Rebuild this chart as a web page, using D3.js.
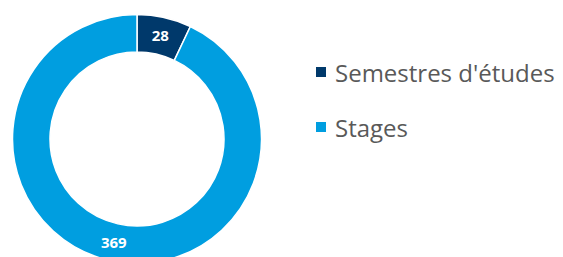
<!DOCTYPE html>
<html>
<head>
<meta charset="utf-8">
<script src="https://cdn.jsdelivr.net/npm/d3@7.9.0/dist/d3.min.js"></script>
<style>
  html, body { margin: 0; padding: 0; background: #fff; }
  svg { display: block; }
</style>
</head>
<body>
<div id="chart"></div>
<script>
// données
const categories = ["Semestres d'études", "Stages"];
const values = [28, 369];
const colors = ["#00396B", "#009EE0"];

const W = 563, H = 257;
const cx = 137, cy = 139;
const outerR = 124.5, innerR = 87;

const svg = d3.select('#chart').append('svg')
  .attr('width', W).attr('height', H);

const pie = d3.pie().sort(null).value(d => d)(values);
const arc = d3.arc().innerRadius(innerR).outerRadius(outerR);
const labelArc = d3.arc().innerRadius((innerR + outerR) / 2).outerRadius((innerR + outerR) / 2);

const g = svg.append('g').attr('transform', `translate(${cx},${cy})`);

g.selectAll('path').data(pie).join('path')
  .attr('d', arc)
  .attr('fill', (d, i) => colors[i])
  .attr('stroke', '#fff')
  .attr('stroke-width', 1.5);

g.selectAll('text').data(pie).join('text')
  .attr('transform', d => `translate(${labelArc.centroid(d)})`)
  .attr('text-anchor', 'middle')
  .attr('dy', '0.36em')
  .attr('fill', '#fff')
  .style('font-family', 'Open Sans, sans-serif')
  .style('font-weight', 'bold')
  .style('font-size', '15px')
  .text(d => d.data);

// légende
const legend = svg.append('g').attr('transform', 'translate(316,0)');
const item = legend.selectAll('g').data(categories).join('g')
  .attr('transform', (d, i) => `translate(0,${82 + i * 55})`);
item.append('rect')
  .attr('x', 0).attr('y', -15)
  .attr('width', 10).attr('height', 10)
  .attr('fill', (d, i) => colors[i]);
item.append('text')
  .attr('x', 19)
  .attr('fill', '#595959')
  .style('font-family', 'Open Sans, sans-serif')
  .style('font-size', '24px')
  .text(d => d);
</script>
</body>
</html>
